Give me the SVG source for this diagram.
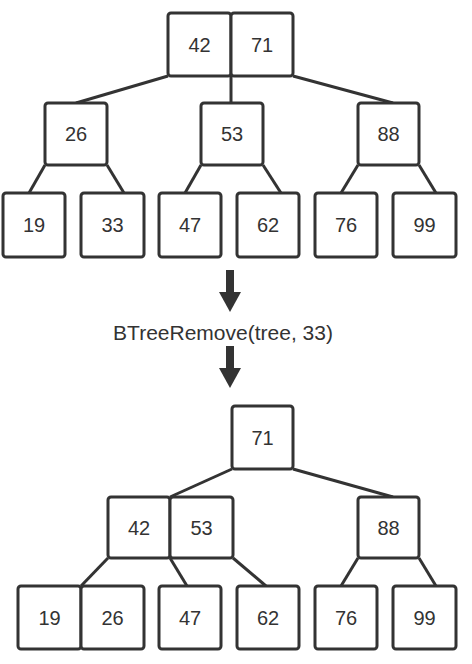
<svg xmlns="http://www.w3.org/2000/svg" width="472" height="664" viewBox="0 0 472 664">
<style>
.b{fill:#fff;stroke:#333;stroke-width:3}
.t{font-family:"Liberation Sans",Arial,sans-serif;font-size:20px;fill:#333;text-anchor:middle}
.c line{stroke:#333;stroke-width:3}
.a{fill:#333}
</style>
<rect width="472" height="664" fill="#fff"/>
<g class="c" id="connectors">
<line x1="168" y1="76" x2="76" y2="103"/>
<line x1="231" y1="76" x2="231" y2="103"/>
<line x1="293" y1="76" x2="393" y2="103"/>
<line x1="45" y1="165" x2="29" y2="193"/>
<line x1="107" y1="165" x2="124" y2="193"/>
<line x1="201" y1="165" x2="185" y2="193"/>
<line x1="263" y1="165" x2="281" y2="193"/>
<line x1="358" y1="165" x2="341" y2="193"/>
<line x1="419" y1="165" x2="436" y2="193"/>
<line x1="232" y1="469" x2="170" y2="497"/>
<line x1="293" y1="469" x2="393" y2="497"/>
<line x1="108" y1="558" x2="81" y2="586"/>
<line x1="170" y1="558" x2="187" y2="586"/>
<line x1="233" y1="558" x2="266" y2="586"/>
<line x1="358" y1="558" x2="341" y2="586"/>
<line x1="419" y1="558" x2="436" y2="586"/>
</g>
<g id="arrow1"><rect class="a" x="226" y="270" width="8" height="23"/><polygon class="a" points="219,292 241,292 230,312"/></g>
<g id="label"><text class="t" x="223" y="340" style="font-size:21px">BTreeRemove(tree, 33)</text></g>
<g id="arrow2"><rect class="a" x="226" y="346" width="8" height="23"/><polygon class="a" points="219,368 241,368 230,388"/></g>
<g id="n42a"><rect class="b" x="168" y="13" width="63" height="63" rx="3"/><text class="t" x="199.5" y="52">42</text></g>
<g id="n71a"><rect class="b" x="231" y="13" width="62" height="63" rx="3"/><text class="t" x="262" y="52">71</text></g>
<g id="n26a"><rect class="b" x="45" y="103" width="62" height="62" rx="3"/><text class="t" x="76" y="141">26</text></g>
<g id="n53a"><rect class="b" x="201" y="103" width="62" height="62" rx="3"/><text class="t" x="232" y="141">53</text></g>
<g id="n88a"><rect class="b" x="358" y="103" width="61" height="62" rx="3"/><text class="t" x="388.5" y="141">88</text></g>
<g id="n19a"><rect class="b" x="3" y="193" width="62" height="64" rx="3"/><text class="t" x="34" y="232">19</text></g>
<g id="n33a"><rect class="b" x="81" y="193" width="63" height="64" rx="3"/><text class="t" x="112.5" y="232">33</text></g>
<g id="n47a"><rect class="b" x="159" y="193" width="62" height="64" rx="3"/><text class="t" x="190" y="232">47</text></g>
<g id="n62a"><rect class="b" x="237" y="193" width="62" height="64" rx="3"/><text class="t" x="268" y="232">62</text></g>
<g id="n76a"><rect class="b" x="315" y="193" width="62" height="64" rx="3"/><text class="t" x="346" y="232">76</text></g>
<g id="n99a"><rect class="b" x="393" y="193" width="63" height="64" rx="3"/><text class="t" x="424.5" y="232">99</text></g>
<g id="n71b"><rect class="b" x="232" y="406" width="61" height="63" rx="3"/><text class="t" x="262.5" y="445">71</text></g>
<g id="n42b"><rect class="b" x="108" y="497" width="62" height="61" rx="3"/><text class="t" x="139" y="534.5">42</text></g>
<g id="n53b"><rect class="b" x="170" y="497" width="63" height="61" rx="3"/><text class="t" x="201.5" y="534.5">53</text></g>
<g id="n88b"><rect class="b" x="358" y="497" width="61" height="61" rx="3"/><text class="t" x="388.5" y="534.5">88</text></g>
<g id="n19b"><rect class="b" x="18" y="586" width="63" height="63" rx="3"/><text class="t" x="49.5" y="625">19</text></g>
<g id="n26b"><rect class="b" x="81" y="586" width="63" height="63" rx="3"/><text class="t" x="112.5" y="625">26</text></g>
<g id="n47b"><rect class="b" x="159" y="586" width="62" height="63" rx="3"/><text class="t" x="190" y="625">47</text></g>
<g id="n62b"><rect class="b" x="237" y="586" width="62" height="63" rx="3"/><text class="t" x="268" y="625">62</text></g>
<g id="n76b"><rect class="b" x="315" y="586" width="62" height="63" rx="3"/><text class="t" x="346" y="625">76</text></g>
<g id="n99b"><rect class="b" x="393" y="586" width="63" height="63" rx="3"/><text class="t" x="424.5" y="625">99</text></g>
</svg>
